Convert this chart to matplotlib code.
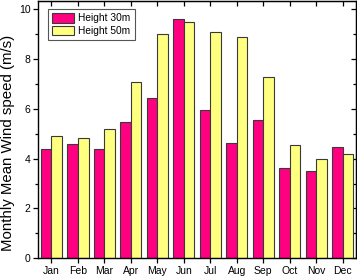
import numpy as np
import matplotlib.pyplot as plt
from matplotlib.ticker import MultipleLocator

plt.rcParams['font.family'] = ['Liberation Sans', 'DejaVu Sans']

# data
months = ['Jan', 'Feb', 'Mar', 'Apr', 'May', 'Jun', 'Jul', 'Aug', 'Sep', 'Oct', 'Nov', 'Dec']
h30 = [4.38, 4.58, 4.38, 5.46, 6.43, 9.6, 5.97, 4.62, 5.57, 3.61, 3.52, 4.48]
h50 = [4.9, 4.82, 5.18, 7.07, 9.02, 9.48, 9.08, 8.87, 7.27, 4.55, 3.97, 4.19]

fig = plt.figure(figsize=(3.57, 2.77), dpi=100)
ax = fig.add_axes([0.107, 0.068, 0.89, 0.928])

x = np.arange(len(months))
w = 0.4
ax.bar(x - w/2, h30, w, color='#FF0080', edgecolor='#3a3a3a', linewidth=0.8, label='Height 30m')
ax.bar(x + w/2, h50, w, color='#FFFF80', edgecolor='#3a3a3a', linewidth=0.8, label='Height 50m')

ax.set_xlim(-0.5, 11.5)
ax.set_ylim(0, 10.33)
ax.set_xticks(x)
ax.set_xticklabels(months)
ax.yaxis.set_major_locator(MultipleLocator(2))
ax.yaxis.set_minor_locator(MultipleLocator(1))

ax.tick_params(axis='both', which='both', direction='out', labelsize=7.5, width=0.9, pad=2)
ax.tick_params(axis='both', which='major', length=3.5)
ax.tick_params(axis='both', which='minor', length=2)
ax.set_ylabel('Monthly Mean Wind speed (m/s)', fontsize=10.8)
ax.yaxis.set_label_coords(-0.074, 0.45)

# mirrored ticks pointing inward
sec_x = ax.secondary_xaxis('top')
sec_x.set_xticks(x)
sec_x.tick_params(direction='in', length=3.5, width=0.9, labeltop=False)
sec_y = ax.secondary_yaxis('right')
sec_y.yaxis.set_major_locator(MultipleLocator(2))
sec_y.yaxis.set_minor_locator(MultipleLocator(1))
sec_y.tick_params(which='major', direction='in', length=3.5, width=0.9, labelright=False)
sec_y.tick_params(which='minor', direction='in', length=2, width=0.9)

for s in ax.spines.values():
    s.set_linewidth(1.0)

leg = ax.legend(loc='upper left', fontsize=7.3, frameon=True, fancybox=False, edgecolor='#555555',
                framealpha=1, handlelength=2.2, handleheight=1.1, borderpad=0.4,
                labelspacing=0.25, handletextpad=0.4, bbox_to_anchor=(0.015, 0.99))
leg.get_frame().set_linewidth(0.8)

fig.savefig('out.png', dpi=100)
